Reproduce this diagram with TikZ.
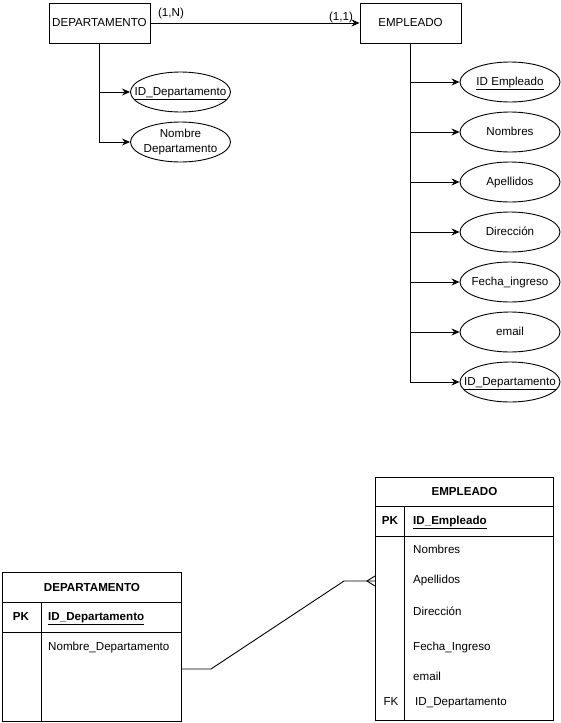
\documentclass[tikz,border=0pt]{standalone}
\usepackage{fontspec}
\setmainfont{Liberation Sans}
\usetikzlibrary{shapes.geometric,arrows.meta}
\tikzset{
  every node/.style={font=\fontsize{11.6}{14.5}\selectfont},
  box/.style={draw, rectangle, minimum width=101pt, minimum height=40pt, inner sep=0pt, line width=0.9pt},
  attr/.style={draw, ellipse, minimum width=100pt, minimum height=40pt, inner sep=0pt, line width=0.9pt, fill=white},
  arr/.style={-{Stealth[length=8pt,width=7pt]}, line width=0.9pt},
  ln/.style={line width=0.9pt},
  cell/.style={draw, rectangle, anchor=north west, inner sep=0pt, line width=0.9pt},
  fixh/.style={text height=8.4pt, text depth=2.4pt},
  txt/.style={anchor=west, inner sep=0pt, fixh},
  ctr/.style={inner sep=0pt, align=center},
  ctr1/.style={inner sep=0pt, fixh},
}
\begin{document}
\begin{tikzpicture}[x=1pt,y=-1pt]
\useasboundingbox (0,0) rectangle (561,723);
% ---------- top ER diagram ----------
\node[box] (dep) at (99.5,23) {DEPARTAMENTO};
\node[box] (emp) at (410.5,23) {EMPLEADO};
\draw[arr] (dep) -- (emp);
\node[ctr1] (l1) at (171,13) {(1,N)};
\node[ctr1] (l2) at (341,17) {(1,1)};

\node[attr] (aid) at (180.5,92) {};
\node[ctr1] (aidt) at (aid) {\underline{ID\_Departamento}};
\node[attr] (anom) at (180.5,142) {};
\node[ctr] (anomt) at (anom) {Nombre\\Departamento};
\draw[arr] (dep.south) |- (aid.west);
\draw[arr] (dep.south) |- (anom.west);

\foreach \i/\y/\t in {1/82/{\underline{ID Empleado}}, 2/132/Nombres, 3/182/Apellidos,
  4/232/Dirección, 5/282/Fecha\_ingreso, 6/332/email, 7/382/{\underline{ID\_Departamento}}} {
  \node[attr] (e\i) at (510,\y) {};
  \node[ctr1] (e\i t) at (e\i) {\t};
  \draw[arr] (emp.south) |- (e\i.west);
}

% ---------- bottom tables ----------
% DEPARTAMENTO table
\node[cell, minimum width=179pt, minimum height=30pt] (dh) at (2,572) {\bfseries DEPARTAMENTO};
\node[cell, minimum width=179pt, minimum height=30pt] (dpk) at (2,602) {};
\node[cell, minimum width=179pt, minimum height=89pt] (db) at (2,632) {};
\draw[ln] (41,602) -- (41,721);
\node[ctr1] (dpkl) at (21,617) {\bfseries PK};
\node[txt] (dpkn) at (48,617) {\bfseries\underline{ID\_Departamento}};
\node[txt] (dnom) at (48,647) {Nombre\_Departamento};

% EMPLEADO table
\node[cell, minimum width=178pt, minimum height=29pt] (eh) at (375,477) {\bfseries EMPLEADO};
\node[cell, minimum width=178pt, minimum height=30pt] (epk) at (375,506) {};
\node[cell, minimum width=178pt, minimum height=184pt] (eb) at (375,536) {};
\draw[ln] (404,506) -- (404,720);
\node[ctr1] (epkl) at (390,521) {\bfseries PK};
\node[txt] (epkn) at (413,521) {\bfseries\underline{ID\_Empleado}};
\node[txt] (r1) at (413,550) {Nombres};
\node[txt] (r2) at (413,580) {Apellidos};
\node[txt] (r3) at (413,612) {Dirección};
\node[txt] (r4) at (413,647) {Fecha\_Ingreso};
\node[txt] (r5) at (413,677) {email};
\node[ctr1] (fkl) at (391,702) {FK};
\node[txt] (r6) at (415,702) {ID\_Departamento};

% relationship connector with crow's foot
\coordinate (cA) at (181,669);
\coordinate (cB) at (211,669);
\coordinate (cC) at (344,581);
\coordinate (cD) at (375,581);
\draw[ln] (cA) -- (cB) -- (cC) -- (cD);
\draw[ln] (cD) ++(0,-5) -- ++(-8,5) -- ++(8,5);
\end{tikzpicture}
\end{document}
